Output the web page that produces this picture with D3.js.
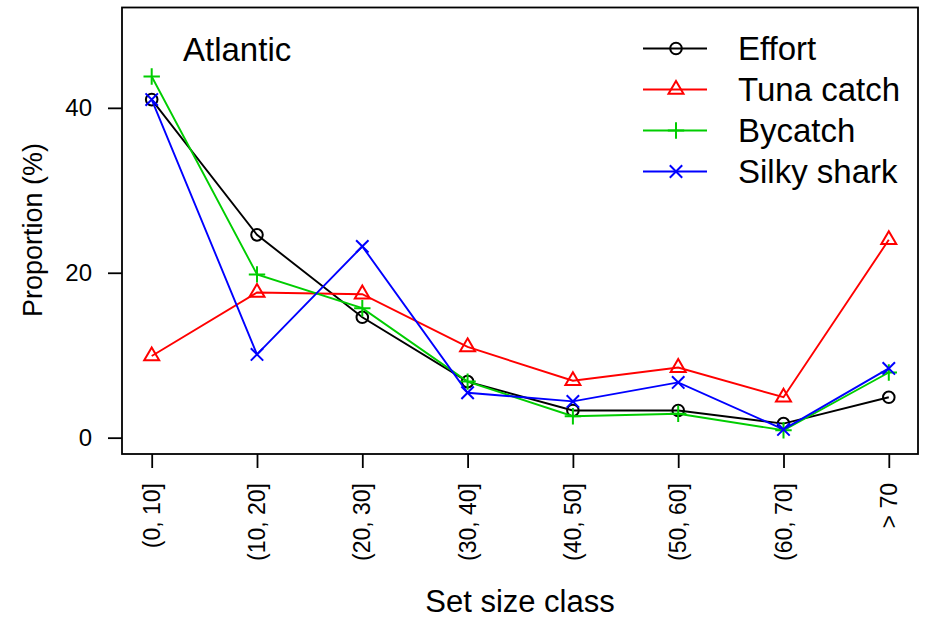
<!DOCTYPE html>
<html>
<head>
<meta charset="utf-8">
<script src="https://cdn.jsdelivr.net/npm/d3@7"></script>
<style>
  body { margin: 0; background: #fff; }
  svg { display: block; font-family: "Liberation Sans", Arial, Helvetica, sans-serif; }
</style>
</head>
<body>
<svg id="chart" width="927" height="619"></svg>
<script>
// set size classes and proportions (%)
var classes = ["(0, 10]", "(10, 20]", "(20, 30]", "(30, 40]", "(40, 50]", "(50, 60]", "(60, 70]", "> 70"];
var effort  = [41.0, 24.6, 14.6, 6.8, 3.3, 3.3, 1.7, 4.9];
var tuna    = [9.9, 17.6, 17.4, 11.0, 6.9, 8.5, 4.9, 24.0];
var bycatch = [43.8, 19.8, 15.7, 6.8, 2.6, 2.9, 0.9, 7.9];
var silky   = [41.0, 10.1, 23.2, 5.45, 4.4, 6.7, 1.0, 8.4];
var yTicks  = [0, 20, 40];

var series = [
  { name: "Effort",      values: effort,  color: "#000000", pch: "circle" },
  { name: "Tuna catch",  values: tuna,    color: "#FF0000", pch: "triangle" },
  { name: "Bycatch",     values: bycatch, color: "#00CD00", pch: "plus" },
  { name: "Silky shark", values: silky,   color: "#0000FF", pch: "cross" }
];

var box = { left: 122, right: 918, top: 7.5, bottom: 454 };

var svg = d3.select("#chart");

var x = d3.scalePoint()
    .domain(classes)
    .range([151.7, 888.8]);

var y = d3.scaleLinear()
    .domain([-1.98, 52.17])
    .range([box.bottom, box.top]);

// draws an R-style plotting symbol centred on 0,0
function symbol(g, pch, color) {
  g.attr("fill", "none").attr("stroke", color).attr("stroke-width", 2);
  if (pch == "circle") {
    g.append("circle").attr("r", 5.8);
  } else if (pch == "triangle") {
    var r = 8.6, xc = 7.5, yc = 4.3;
    g.append("path").attr("d", "M0," + (-r) + "L" + xc + "," + yc + "L" + (-xc) + "," + yc + "Z");
  } else if (pch == "plus") {
    var a = 8.2;
    g.append("path").attr("d", "M" + (-a) + ",0H" + a + "M0," + (-a) + "V" + a);
  } else {
    var b = 6.2;
    g.append("path").attr("d", "M" + (-b) + "," + (-b) + "L" + b + "," + b + "M" + (-b) + "," + b + "L" + b + "," + (-b));
  }
}

// plot box
svg.append("rect")
    .attr("x", box.left).attr("y", box.top)
    .attr("width", box.right - box.left).attr("height", box.bottom - box.top)
    .attr("fill", "none").attr("stroke", "#000").attr("stroke-width", 1.8);

// y axis
var yAxis = svg.append("g")
    .attr("transform", "translate(" + box.left + ",0)")
    .call(d3.axisLeft(y).tickValues(yTicks).tickSize(14).tickPadding(16).tickFormat(d3.format("d")));
yAxis.select(".domain").remove();
yAxis.selectAll("line").attr("stroke", "#000").attr("stroke-width", 1.8);
yAxis.selectAll("text")
    .attr("font-size", 24).attr("font-family", null).attr("fill", "#000");

// x axis with labels drawn perpendicular (las = 2)
var xAxis = svg.append("g")
    .attr("transform", "translate(0," + box.bottom + ")")
    .call(d3.axisBottom(x).tickSize(14).tickFormat(""));
xAxis.select(".domain").remove();
xAxis.selectAll("line").attr("stroke", "#000").attr("stroke-width", 1.8);

svg.append("g").selectAll("text")
    .data(classes)
  .enter().append("text")
    .attr("transform", function(d) { return "translate(" + x(d) + ",483) rotate(-90)"; })
    .attr("text-anchor", "end")
    .attr("dy", "0.35em")
    .attr("font-size", 23)
    .text(function(d) { return d; });

// axis titles
svg.append("text")
    .attr("x", (box.left + box.right) / 2).attr("y", 612)
    .attr("text-anchor", "middle")
    .attr("font-size", 31)
    .text("Set size class");

svg.append("text")
    .attr("transform", "translate(42,230) rotate(-90)")
    .attr("text-anchor", "middle")
    .attr("font-size", 27)
    .text("Proportion (%)");

// panel label
svg.append("text")
    .attr("x", 183).attr("y", 61)
    .attr("font-size", 33)
    .text("Atlantic");

// series lines and symbols
var line = d3.line()
    .x(function(d, i) { return x(classes[i]); })
    .y(function(d) { return y(d); });

series.forEach(function(s) {
  svg.append("path")
      .datum(s.values)
      .attr("d", line)
      .attr("fill", "none")
      .attr("stroke", s.color)
      .attr("stroke-width", 1.9);

  s.values.forEach(function(v, i) {
    var g = svg.append("g").attr("transform", "translate(" + x(classes[i]) + "," + y(v) + ")");
    symbol(g, s.pch, s.color);
  });
});

// legend
var legend = svg.append("g");
series.forEach(function(s, i) {
  var ly = 48.5 + i * 41;
  legend.append("line")
      .attr("x1", 643).attr("x2", 707).attr("y1", ly).attr("y2", ly)
      .attr("stroke", s.color).attr("stroke-width", 1.9);
  symbol(legend.append("g").attr("transform", "translate(676," + ly + ")"), s.pch, s.color);
  legend.append("text")
      .attr("x", 738).attr("y", ly).attr("dy", "0.36em")
      .attr("font-size", 33)
      .text(s.name);
});
</script>
</body>
</html>
